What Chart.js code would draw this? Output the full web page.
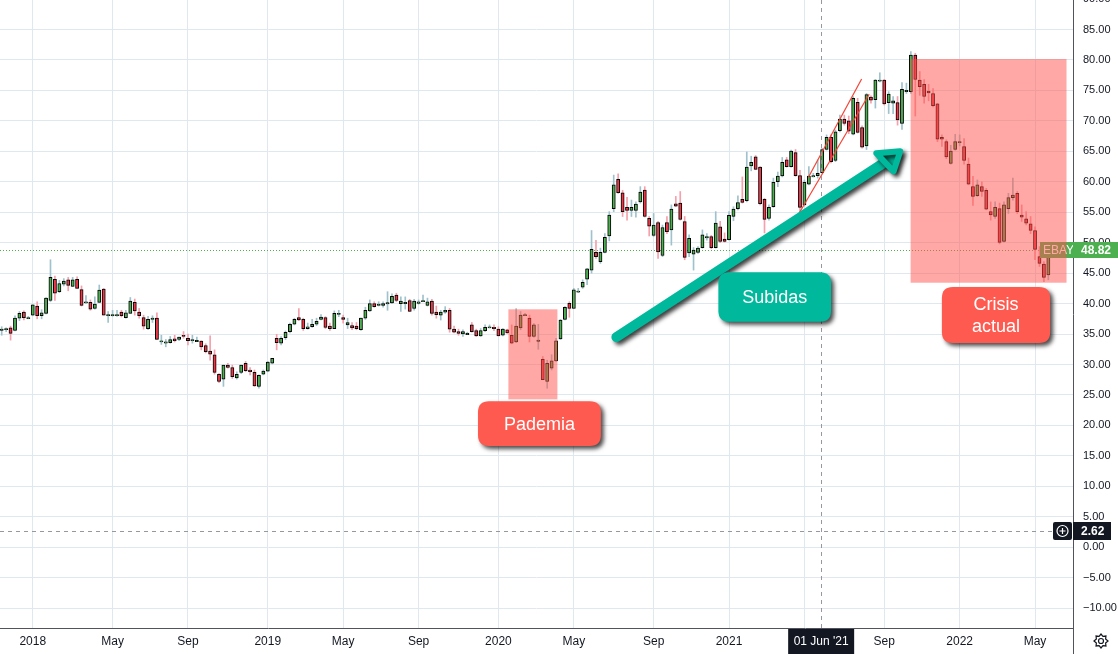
<!DOCTYPE html>
<html><head><meta charset="utf-8">
<script src="https://cdn.jsdelivr.net/npm/chart.js@4.4.0/dist/chart.umd.min.js"></script>
<style>html,body{margin:0;padding:0;background:#fff;overflow:hidden}canvas{display:block}</style>
</head><body>
<canvas id="c" width="1118" height="654"></canvas>
<script>
// Weekly EBAY candles, bar 0 = week of 13 Nov 2017
const opens = [35.6,35.7,36.0,35.6,37.6,38.6,37.7,38.1,39.6,38.0,38.4,40.5,44.0,41.96,43.2,43.9,42.8,44.0,42.3,40.3,40.2,39.2,40.2,42.4,38.2,38.2,38.2,38.6,37.7,38.4,40.2,38.6,37.7,35.9,37.6,37.6,33.9,33.7,33.6,34.2,34.1,
34.7,34.3,34.1,33.95,33.85,33.1,32.2,31.6,28.4,27.6,29.9,29.5,27.8,28.7,30.2,29.1,28.7,26.4,28.4,28.9,30.2,34.3,33.5,34.4,35.4,36.6,37.7,37.4,35.9,36.2,36.6,37.4,37.7,36.3,35.9,38.4,37.7,36.5,36.4,36.3,35.7,
37.6,38.8,40.0,39.9,39.7,40.15,40.1,41.4,40.0,40.0,40.5,39.2,40.04,40.5,39.7,40.4,38.6,38.1,38.6,38.9,35.8,35.4,35.0,35.1,36.5,35.55,34.7,35.55,36.2,36.1,35.8,34.8,35.7,34.8,33.7,36.0,38.2,37.6,34.6,34.0,
30.85,27.2,29.4,30.6,34.2,37.4,40.05,39.2,42.07,42.7,44.0,45.5,48.4,46.9,48.4,51.1,55.6,60.4,58.2,55.8,55.3,55.3,56.7,58.65,54.0,51.2,53.3,47.9,53.3,52.1,56.4,56.5,53.45,48.3,48.1,48.4,49.2,51.0,51.0,49.2,
52.6,50.6,50.5,54.3,55.6,57.1,56.9,62.6,64.1,62.4,57.1,54.0,55.9,60.0,60.95,63.6,62.5,64.8,61.0,56.2,59.6,61.0,61.0,61.5,65.3,67.3,63.5,68.4,70.3,70.0,67.8,73.05,68.9,65.9,73.9,73.5,76.7,76.7,73.0,72.9,
73.0,69.6,75.0,74.8,80.8,76.7,76.0,74.9,74.5,72.8,67.3,66.6,63.0,65.3,66.6,65.8,62.9,59.2,57.7,59.2,58.6,55.1,54.3,55.6,50.2,55.6,57.4,58.1,54.55,53.9,53.1,52.0,47.7,46.5,44.7];
const highs = [36.2,36.0,36.3,38.0,38.7,38.8,37.9,39.8,40.3,39.0,41.0,47.2,44.5,43.8,44.1,44.3,44.3,44.4,42.9,41.3,40.6,41.1,43.05,42.5,38.7,38.9,38.9,38.9,38.9,41.0,40.75,39.2,38.1,37.9,38.0,38.5,34.8,34.1,34.6,34.8,34.5,
35.4,35.0,34.8,34.5,33.9,33.4,34.7,32.4,28.5,29.9,30.2,29.9,28.8,29.9,30.5,29.5,29.1,28.3,29.1,30.5,31.0,34.95,34.6,35.5,36.8,37.6,39.2,37.6,36.8,37.4,37.6,38.2,37.85,36.8,38.8,38.9,38.1,37.6,36.9,36.9,37.6,
39.4,40.6,40.3,40.3,40.3,41.95,41.6,41.7,41.1,41.1,40.7,40.7,40.6,41.4,40.9,40.7,39.6,38.9,39.5,39.2,36.3,35.8,35.7,35.3,36.9,35.8,35.9,36.5,36.5,36.5,36.2,35.9,35.8,36.5,39.2,38.7,38.4,38.1,36.7,36.6,
31.3,30.7,31.6,34.3,37.4,39.5,40.3,42.5,42.5,43.9,45.8,52.0,50.4,49.1,51.5,55.1,61.1,61.3,58.6,57.45,57.0,56.7,59.2,59.2,54.3,54.8,53.5,52.9,54.3,56.2,57.6,58.4,54.3,51.3,49.2,49.35,52.1,51.5,51.2,55.1,
53.5,51.6,55.1,55.9,57.7,60.8,64.9,64.2,64.3,62.5,57.3,56.2,60.6,61.6,64.0,64.0,65.2,65.3,61.9,60.3,62.5,61.4,63.6,65.5,67.7,67.7,68.5,70.95,70.95,70.8,74.0,73.7,69.2,74.5,74.1,76.8,77.9,76.8,74.8,74.0,
74.0,76.3,76.2,81.4,81.1,78.1,76.8,76.0,75.3,72.9,67.7,66.9,66.0,67.8,67.7,67.1,63.9,60.9,60.3,60.0,58.9,56.7,56.7,56.5,56.7,58.1,60.6,58.4,56.2,55.1,54.3,52.6,49.35,46.9,49.0];
const lows = [34.8,35.4,34.0,35.5,37.2,37.3,37.5,38.0,37.5,37.5,38.3,40.3,40.5,41.8,42.9,42.1,42.8,42.5,39.6,40.0,38.9,39.1,40.2,38.1,36.9,37.9,37.9,37.8,37.6,38.4,38.1,37.6,35.8,35.7,36.9,34.1,33.3,32.9,33.5,33.7,33.9,
34.3,33.2,33.5,33.8,32.4,31.9,30.7,28.4,27.0,26.4,29.4,27.7,27.6,28.5,28.8,28.3,26.4,26.1,28.3,28.8,30.1,32.4,33.2,34.1,35.2,36.5,37.2,35.6,35.8,36.1,36.4,37.3,35.9,35.6,35.9,37.85,36.8,35.9,35.7,35.7,35.6,
37.4,38.7,39.4,39.6,39.4,38.9,40.0,40.3,38.7,39.1,38.7,38.9,39.9,40.3,39.6,38.1,37.6,37.3,38.4,35.3,35.2,34.8,34.6,34.9,35.3,34.6,34.6,35.4,36.0,35.55,34.7,34.7,35.1,33.4,33.6,35.7,38.0,33.7,34.5,32.5,
27.5,26.1,29.1,30.5,34.1,37.3,37.75,39.2,41.8,42.5,43.1,45.0,47.4,46.6,48.3,50.3,55.1,58.1,54.3,53.7,54.3,54.2,56.5,54.2,51.1,51.0,47.4,47.7,51.5,49.6,55.9,53.7,47.2,47.7,45.5,48.25,49.1,50.4,49.0,49.1,
50.0,50.1,50.4,53.6,55.4,56.5,56.7,61.8,62.0,56.2,51.6,53.7,55.8,59.2,60.8,62.4,62.4,60.9,55.1,56.0,59.5,60.8,60.6,61.4,65.2,63.1,63.3,68.2,69.3,67.9,67.7,68.0,65.5,65.3,72.9,72.1,76.4,72.6,71.2,71.2,
69.3,68.6,74.5,74.5,70.8,74.2,72.9,73.3,72.3,66.6,65.8,63.8,62.9,65.2,65.9,62.9,59.5,56.1,57.6,57.6,55.4,53.7,54.0,49.8,50.1,54.8,57.0,54.8,53.5,52.9,51.5,47.2,46.1,43.6,43.9];
const closes = [35.7,35.75,35.1,37.6,38.4,37.7,37.7,39.8,38.0,38.5,40.9,44.3,41.7,43.3,43.7,43.0,43.9,42.5,39.7,40.3,39.1,39.9,42.2,38.1,38.2,38.2,38.2,38.0,38.5,40.4,38.8,38.0,36.3,37.4,37.6,34.1,33.9,33.7,34.1,33.9,34.5,
34.6,33.9,34.1,33.95,32.9,32.1,31.7,28.7,27.2,29.9,29.5,28.0,28.4,29.9,29.0,28.8,26.5,28.2,28.9,30.4,31.0,33.6,34.3,35.3,36.6,37.4,37.3,35.9,36.2,36.6,37.1,37.8,36.1,35.9,38.4,38.4,37.4,36.9,36.0,35.9,37.6,
38.9,40.0,39.5,39.9,40.0,40.15,41.2,40.5,40.4,40.04,38.7,40.4,40.3,40.5,40.3,38.4,38.2,38.6,38.9,35.8,35.3,35.1,35.4,35.1,35.4,34.7,35.55,36.1,36.2,35.9,34.7,35.8,35.2,33.5,36.3,38.1,38.2,34.6,36.5,34.0,
27.5,30.2,30.6,33.9,37.3,39.4,39.2,42.25,42.07,43.5,45.7,48.9,47.7,48.4,50.9,54.55,59.5,58.2,55.1,55.3,55.8,56.35,58.3,54.3,52.7,52.9,48.5,52.5,51.8,55.5,56.0,53.8,47.6,50.7,48.8,49.1,51.3,51.0,49.2,53.2,
50.2,50.2,54.5,55.5,56.6,56.6,62.4,63.2,62.05,56.4,53.8,55.8,59.9,60.95,63.2,62.5,65.05,61.0,55.8,59.9,60.95,61.0,61.4,65.3,67.3,63.3,68.2,70.3,69.6,68.3,73.7,68.1,65.7,74.3,73.4,76.7,76.7,72.8,74.4,73.3,
70.15,75.2,75.0,80.8,76.8,75.6,74.0,74.6,72.5,67.0,67.0,64.1,65.05,66.6,66.6,63.5,59.6,57.6,59.5,58.4,55.5,54.55,55.8,50.06,56.2,57.4,57.8,55.1,54.2,53.2,52.0,48.9,46.6,44.3,48.82];

const tickBars   = [7,25,42,60,77,94,112,129,147,164,181,199,216,233];
const tickLabels = ['2018','May','Sep','2019','May','Sep','2020','May','Sep','2021','May','Sep','2022','May'];
const priceStep = 5;
const lastPrice = 48.82;
const symbol = 'EBAY';
const crossBar = 185, crossPrice = 2.62, crossDate = "01 Jun '21";

// annotation geometry in data units (bar index, price)
const zones = [
  {x0:114.25, x1:125.3, y0:24.28, y1:39.06},
  {x0:204.95, x1:240.1, y0:43.43, y1:80.16}
];
const callouts = [
  {lines:['Pademia'], x0:107.4, x1:135.1, y0:23.97, y1:16.6, color:'#ff5a4f'},
  {lines:['Subidas'], x0:161.6, x1:187.0, y0:45.14, y1:37.03, color:'#00b89c'},
  {lines:['Crisis','actual'], x0:212.0, x1:236.4, y0:42.73, y1:33.53, color:'#ff5a4f'}
];
const arrow = {from:[138.6,34.5], to:[199.2,63.25], tip:[202.6,65.0], h1:[197.2,64.7], h2:[201.1,61.7]};
const channel = [[[181.9,60.74],[193.9,76.88]], [[179.8,54.83],[195.6,74.37]]];

const UP='#4caf50', DOWN='#f23645', UPW='#9fc2cc', DOWNW='#f5a0aa';
const FONT='"Liberation Sans", Arial, sans-serif';
const idx = opens.map((_, i) => i);
const isUp = i => closes[i] >= opens[i];

function rrect(ctx,x,y,w,h,r){ctx.beginPath();ctx.moveTo(x+r,y);ctx.lineTo(x+w-r,y);ctx.quadraticCurveTo(x+w,y,x+w,y+r);ctx.lineTo(x+w,y+h-r);ctx.quadraticCurveTo(x+w,y+h,x+w-r,y+h);ctx.lineTo(x+r,y+h);ctx.quadraticCurveTo(x,y+h,x,y+h-r);ctx.lineTo(x,y+r);ctx.quadraticCurveTo(x,y,x+r,y);ctx.closePath();}

const overlay = {
  id:'overlay',
  beforeDatasetsDraw(chart){
    const {ctx, chartArea:a, scales:{x,y}} = chart;
    ctx.save();
    ctx.strokeStyle='#4caf50'; ctx.lineWidth=1; ctx.setLineDash([1,2]);
    const py=Math.round(y.getPixelForValue(lastPrice))+0.5;
    ctx.beginPath(); ctx.moveTo(a.left,py); ctx.lineTo(a.right,py); ctx.stroke();
    ctx.restore();
  },
  afterDatasetsDraw(chart){
    const {ctx, chartArea:a, scales:{x,y}} = chart;
    const X=v=>x.getPixelForValue(v), Y=v=>y.getPixelForValue(v);
    ctx.save();
    // channel lines
    ctx.strokeStyle='#f44336'; ctx.lineWidth=1.2;
    channel.forEach(l=>{ctx.beginPath();ctx.moveTo(X(l[0][0]),Y(l[0][1]));ctx.lineTo(X(l[1][0]),Y(l[1][1]));ctx.stroke();});
    // symbol label (under the zone overlay)
    const py=Math.round(Y(lastPrice));
    ctx.fillStyle='#4caf50'; ctx.fillRect(1040,py-8,a.right-1040,16);
    ctx.fillStyle='#fff'; ctx.font='12px '+FONT; ctx.textBaseline='middle'; ctx.textAlign='left';
    ctx.fillText(symbol,1043,py+0.5);
    // zones
    ctx.fillStyle='rgba(255,82,76,0.5)';
    zones.forEach(z=>{ctx.fillRect(X(z.x0),Y(z.y1),X(z.x1)-X(z.x0),Y(z.y0)-Y(z.y1));});
    // crosshair lines
    ctx.strokeStyle='#9598a1'; ctx.setLineDash([4,4]); ctx.lineWidth=1;
    const cx=Math.round(X(crossBar))-0.5, cy=Math.round(Y(crossPrice))+0.5;
    ctx.beginPath(); ctx.moveTo(cx,a.top); ctx.lineTo(cx,a.bottom); ctx.stroke();
    ctx.beginPath(); ctx.moveTo(a.left,cy); ctx.lineTo(1052,cy); ctx.stroke();
    ctx.setLineDash([]);
    // arrow with shadow
    ctx.save();
    ctx.shadowColor='rgba(0,0,0,0.75)'; ctx.shadowOffsetX=3; ctx.shadowOffsetY=3; ctx.shadowBlur=4;
    ctx.strokeStyle='#00b89c'; ctx.fillStyle='#00b89c'; ctx.lineCap='round'; ctx.lineJoin='round';
    ctx.beginPath();
    ctx.moveTo(X(arrow.from[0]),Y(arrow.from[1])); ctx.lineTo(X(arrow.to[0]),Y(arrow.to[1]));
    ctx.lineWidth=10; ctx.stroke();
    ctx.beginPath();
    ctx.moveTo(X(arrow.tip[0]),Y(arrow.tip[1])); ctx.lineTo(X(arrow.h1[0]),Y(arrow.h1[1])); ctx.lineTo(X(arrow.h2[0]),Y(arrow.h2[1])); ctx.closePath();
    ctx.fill(); ctx.lineWidth=6; ctx.stroke();
    ctx.restore();
    // callouts
    callouts.forEach(c=>{
      const x0=X(c.x0), x1=X(c.x1), y0=Y(c.y0), y1=Y(c.y1);
      ctx.save();
      ctx.shadowColor='rgba(0,0,0,0.7)'; ctx.shadowOffsetX=3; ctx.shadowOffsetY=3; ctx.shadowBlur=4;
      ctx.fillStyle=c.color; rrect(ctx,x0,y0,x1-x0,y1-y0,11); ctx.fill();
      ctx.restore();
      ctx.fillStyle='#fff'; ctx.font='18px '+FONT; ctx.textAlign='center'; ctx.textBaseline='middle';
      const mx=(x0+x1)/2, my=(y0+y1)/2, n=c.lines.length;
      c.lines.forEach((t,k)=>ctx.fillText(t,mx,my+(k-(n-1)/2)*22+1));
    });
    ctx.restore();
  },
  afterDraw(chart){
    const {ctx, chartArea:a, scales:{x,y}} = chart;
    const X=v=>x.getPixelForValue(v), Y=v=>y.getPixelForValue(v);
    ctx.save();
    ctx.textBaseline='middle'; ctx.textAlign='left';
    // partial top tick label
    ctx.fillStyle='#131722'; ctx.font='11px '+FONT;
    ctx.fillText((90).toFixed(2),a.right+10,Y(90));
    // last price label
    const py=Math.round(Y(lastPrice));
    ctx.fillStyle='#4caf50'; ctx.fillRect(a.right,py-8,1118-a.right,16);
    ctx.fillStyle='#fff'; ctx.font='bold 12px '+FONT; ctx.fillText(lastPrice.toFixed(2),a.right+8,py+0.5);
    // crosshair price label + button
    const cy=Math.round(Y(crossPrice));
    ctx.fillStyle='#131722'; rrect(ctx,1053,cy-9,19,18,2); ctx.fill();
    ctx.strokeStyle='#fff'; ctx.lineWidth=1.2;
    ctx.beginPath(); ctx.arc(1062.5,cy,5.5,0,Math.PI*2); ctx.stroke();
    ctx.beginPath(); ctx.moveTo(1059.5,cy); ctx.lineTo(1065.5,cy); ctx.moveTo(1062.5,cy-3); ctx.lineTo(1062.5,cy+3); ctx.stroke();
    ctx.fillStyle='#131722'; ctx.fillRect(a.right,cy-9,38,18);
    ctx.fillStyle='#fff'; ctx.font='bold 12px '+FONT; ctx.fillText(crossPrice.toFixed(2),a.right+8,cy+0.5);
    // crosshair date label
    const cx=X(crossBar)-1;
    ctx.fillStyle='#131722'; ctx.fillRect(cx-33,a.bottom+1,66,654-a.bottom-1);
    ctx.fillStyle='#fff'; ctx.font='12px '+FONT; ctx.textAlign='center'; ctx.fillText(crossDate,cx,a.bottom+14);
    // gear icon
    ctx.strokeStyle='#131722'; ctx.lineWidth=1.2;
    const gx=1101, gy=641;
    ctx.beginPath();
    for(let k=0;k<16;k++){const ang=k*Math.PI/8, r=(k%2===0)?7:5; const px=gx+r*Math.cos(ang), pyy=gy+r*Math.sin(ang); if(k===0)ctx.moveTo(px,pyy); else ctx.lineTo(px,pyy);}
    ctx.closePath(); ctx.stroke();
    ctx.beginPath(); ctx.arc(gx,gy,2.5,0,Math.PI*2); ctx.stroke();
    // separator line in axis corner
    ctx.strokeStyle='#50535e'; ctx.lineWidth=1;
    ctx.beginPath(); ctx.moveTo(a.right+0.5,a.bottom); ctx.lineTo(a.right+0.5,654); ctx.stroke();
    ctx.restore();
  }
};

const GRID='#e0e8ef';
new Chart(document.getElementById('c'), {
  type:'bar',
  data:{datasets:[
    {label:'body', data: idx.map(i=>({x:i, y:[opens[i], closes[i]]})),
     backgroundColor: c=>isUp(c.dataIndex)?UP:DOWN, borderColor:'#000', borderWidth:1, borderSkipped:false,
     barThickness:3.2, minBarLength:1.2, grouped:false},
    {label:'wick', data: idx.map(i=>({x:i, y:[lows[i], highs[i]]})),
     backgroundColor: c=>isUp(c.dataIndex)?UPW:DOWNW, borderWidth:0, barThickness:1, minBarLength:1, grouped:false}
  ]},
  options:{
    responsive:false, animation:false, events:[],
    layout:{padding:0},
    plugins:{legend:{display:false}, tooltip:{enabled:false}},
    scales:{
      x:{type:'linear', min:-0.383, max:241.56, offset:false, position:'bottom',
         grid:{color:GRID, drawTicks:false, offset:false}, border:{color:'#50535e'},
         afterBuildTicks:s=>{s.ticks=tickBars.map(v=>({value:v}));},
         ticks:{autoSkip:false, maxRotation:0, padding:6, color:'#131722', font:{size:12, family:FONT},
                callback:v=>{const k=tickBars.indexOf(v); return k<0?'':tickLabels[k];}},
         afterFit:s=>{s.height=26; s.paddingLeft=0; s.paddingRight=0;}},
      y:{type:'linear', position:'right', min:-13.27, max:89.85,
         grid:{color:GRID, drawTicks:false}, border:{color:'#50535e'},
         ticks:{stepSize:priceStep, includeBounds:false, padding:10, color:'#131722', font:{size:11, family:FONT},
                callback:v=>(v<0?'\u2212'+Math.abs(v).toFixed(2):v.toFixed(2))},
         afterFit:s=>{s.width=45; s.paddingTop=0; s.paddingBottom=0;}}
    }
  },
  plugins:[overlay]
});
</script>
</body></html>
